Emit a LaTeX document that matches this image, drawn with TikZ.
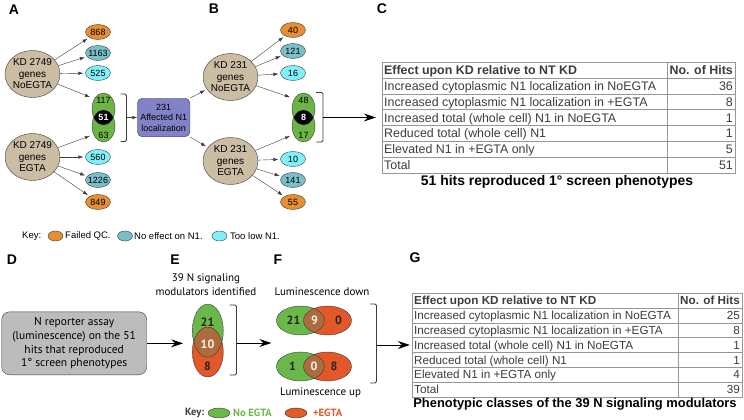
\documentclass[tikz,border=0pt]{standalone}
\usepackage{fontspec}
\setmainfont{Liberation Sans}
\newfontfamily\humfont{PT Sans}
\usetikzlibrary{shapes.geometric,arrows.meta}

\definecolor{tanfill}{RGB}{203,189,164}
\definecolor{qcorange}{RGB}{230,142,48}
\definecolor{noeffteal}{RGB}{122,190,200}
\definecolor{lowcyan}{RGB}{128,240,250}
\definecolor{venngreen}{RGB}{108,180,70}
\definecolor{boxpurple}{RGB}{130,130,200}
\definecolor{egreen}{RGB}{106,184,74}
\definecolor{eorange}{RGB}{226,88,40}
\definecolor{ebrown}{RGB}{172,108,62}
\definecolor{graybox}{RGB}{188,188,188}
\definecolor{gridgray}{RGB}{150,150,150}
\definecolor{inkgray}{RGB}{60,60,60}

\begin{document}
\begin{tikzpicture}[x=1pt,y=-1pt,
    kd/.style={ellipse,draw=inkgray,fill=tanfill,inner xsep=-3pt,inner ysep=0pt,minimum width=55pt,minimum height=47pt,align=center,font=\fontsize{10}{11.5}\selectfont},
    hit/.style={ellipse,draw=inkgray,inner xsep=-2pt,inner ysep=0pt,minimum width=25pt,minimum height=15pt,font=\fontsize{9}{9}\selectfont},
    keydot/.style={ellipse,draw=inkgray,minimum width=15pt,minimum height=10pt,inner sep=0pt},
    arr/.style={-{Latex[length=5pt,width=3.5pt]},draw=inkgray,shorten >=2pt},
    bigarr/.style={-{Stealth[length=12pt,width=8pt,inset=4pt]},line width=0.9pt},
    brace/.style={draw=inkgray,line width=0.8pt,rounded corners=1.5pt},
    panel/.style={font=\bfseries\fontsize{14}{14}\selectfont,inner sep=0pt},
    cellC/.style={anchor=base west,inner sep=0pt,text=inkgray,font=\fontsize{12.4}{12.4}\selectfont},
    cellG/.style={anchor=base west,inner sep=0pt,text=inkgray,font=\fontsize{11.7}{11.7}\selectfont},
    keytext/.style={anchor=west,inner sep=0pt,font=\fontsize{9.5}{10}\selectfont},
    vnum/.style={inner sep=0pt,font=\humfont\bfseries\fontsize{12}{12}\selectfont},
  ]
  \useasboundingbox (0,0) rectangle (744,420);

  % Panel letters
  \node[panel] (labA) at (14,10) {A};
  \node[panel] (labB) at (214,9) {B};
  \node[panel] (labC) at (382,9) {C};
  \node[panel] (labD) at (12,260) {D};
  \node[panel] (labE) at (175,260) {E};
  \node[panel] (labF) at (278,260) {F};
  \node[panel] (labG) at (415,258) {G};

  % Panel A: primary screen
  \node[kd] (kdA1) at (32.5,74) {KD 2749\\genes\\NoEGTA};
  \node[kd] (kdA2) at (32.5,157) {KD 2749\\genes\\EGTA};
  \node[hit,fill=qcorange] (a868) at (98,32) {868};
  \node[hit,fill=noeffteal] (a1163) at (98,53) {1163};
  \node[hit,fill=lowcyan] (a525) at (98,73) {525};
  \node[hit,fill=lowcyan] (a560) at (98,157) {560};
  \node[hit,fill=noeffteal] (a1226) at (98,180) {1226};
  \node[hit,fill=qcorange] (a849) at (98,202) {849};

  % Panel B: retest of the 231
  \node[kd] (kdB1) at (230.5,77) {KD 231\\genes\\NoEGTA};
  \node[kd] (kdB2) at (230.5,161) {KD 231\\genes\\EGTA};
  \node[hit,fill=qcorange] (b40) at (293,30) {40};
  \node[hit,fill=noeffteal] (b121) at (293,51) {121};
  \node[hit,fill=lowcyan] (b16) at (293,73) {16};
  \node[hit,fill=lowcyan] (b10) at (293,159) {10};
  \node[hit,fill=noeffteal] (b141) at (293,180) {141};
  \node[hit,fill=qcorange] (b55) at (293,202) {55};

  % Overlap of the two conditions (A and B)
  \foreach \p/\cx/\nup/\nboth/\ndn in {A/103.5/117/51/63,B/303.5/48/8/17}{
    \node[minimum width=23pt,minimum height=49pt,inner sep=0pt] (venn\p) at (\cx,117.5) {};
    \fill[venngreen] (\cx,109) ellipse [x radius=11.5pt,y radius=16pt];
    \fill[venngreen] (\cx,126) ellipse [x radius=11.5pt,y radius=16pt];
    \begin{scope}
      \clip (\cx,109) ellipse [x radius=11.5pt,y radius=16pt];
      \fill[black] (\cx,126) ellipse [x radius=11.5pt,y radius=16pt];
    \end{scope}
    \draw[inkgray] (\cx,109) ellipse [x radius=11.5pt,y radius=16pt]
      (\cx,126) ellipse [x radius=11.5pt,y radius=16pt];
    \node[inner sep=0pt,font=\fontsize{9}{9}\selectfont] (up\p) at (\cx,100) {\nup};
    \node[inner sep=0pt,text=white,font=\bfseries\fontsize{9}{9}\selectfont] (both\p) at (\cx,117.5) {\nboth};
    \node[inner sep=0pt,font=\fontsize{9}{9}\selectfont] (dn\p) at (\cx,135) {\ndn};
  }

  \node[draw=inkgray,fill=boxpurple,rounded corners=5pt,minimum width=52.5pt,minimum height=38.5pt,
    inner sep=0pt,align=center,font=\fontsize{9}{10.5}\selectfont] (hitbox) at (163.7,117.5) {231\\Affected N1\\localization};

  \draw[brace] (120.5,94) -- (126.5,94) -- (126.5,141.5) -- (120.5,141.5);
  \coordinate (brA) at (126.5,117.5);
  \draw[brace] (316,92.5) -- (323,92.5) -- (323,142) -- (316,142);
  \coordinate (brB) at (323,117.5);

  \foreach \t in {a868,a1163,a525} \draw[arr] (kdA1) -- (\t);
  \foreach \t in {a560,a1226,a849} \draw[arr] (kdA2) -- (\t);
  \draw[arr] (kdA1) -- ([yshift=-5pt]vennA.north west);
  \draw[arr] (kdA2) -- ([yshift=7pt]vennA.south west);
  \draw[arr,shorten >=0pt] (brA) -- (hitbox.west);
  \draw[arr] (hitbox.north east) -- (kdB1);
  \draw[arr] (hitbox.south east) -- (kdB2);
  \foreach \t in {b40,b121,b16} \draw[arr] (kdB1) -- (\t);
  \foreach \t in {b10,b141,b55} \draw[arr] (kdB2) -- (\t);
  \draw[arr] (kdB1) -- ([yshift=-5pt]vennB.north west);
  \draw[arr] (kdB2) -- ([yshift=7pt]vennB.south west);

  % Key for A and B
  \node[keytext] (keyA) at (22,236) {Key:};
  \node[keydot,fill=qcorange] (kqc) at (55.5,236) {};
  \node[keytext] (kqcT) at (65,236) {Failed QC.};
  \node[keydot,fill=noeffteal] (knoeff) at (125,236) {};
  \node[keytext] (knoeffT) at (134,236) {No effect on N1.};
  \node[keydot,fill=lowcyan] (klow) at (219.5,236) {};
  \node[keytext] (klowT) at (230,236) {Too low N1.};

  % Panel C: table
  \node[draw=gridgray,minimum width=353pt,minimum height=111pt,inner sep=0pt] (tabC) at (558.5,117.5) {};
  \foreach \r in {1,...,6}
    \draw[gridgray] (382,{62+15.857*\r}) -- (735,{62+15.857*\r});
  \draw[gridgray] (667,62) -- (667,173);
  \node[cellC,font=\bfseries\fontsize{12.4}{12.4}\selectfont] (headC) at (384,74.5) {Effect upon KD relative to NT KD};
  \node[cellC,anchor=base east,font=\bfseries\fontsize{12.4}{12.4}\selectfont] (hitsC) at (733,74.5) {No. of Hits};
  \foreach \txt/\hits [count=\r] in {{Increased cytoplasmic N1 localization in NoEGTA}/36,
      {Increased cytoplasmic N1 localization in +EGTA}/8,{Increased total (whole cell) N1 in NoEGTA}/1,
      {Reduced total (whole cell) N1}/1,{Elevated N1 in +EGTA only}/5,Total/51}{
    \node[cellC] (rowC\r) at (384,{74.5+15.857*\r}) {\txt};
    \node[cellC,anchor=base east] (numC\r) at (733,{74.5+15.857*\r}) {\hits};
  }
  \node[anchor=base,inner sep=0pt,font=\bfseries\fontsize{13.9}{14}\selectfont] (capC) at (557,185) {51 hits reproduced 1° screen phenotypes};
  \draw[bigarr,shorten >=6pt] (brB) -- (tabC.west);

  % Panel D: reporter assay
  \node[draw=inkgray,fill=graybox,rounded corners=8pt,minimum width=145pt,minimum height=63pt,inner sep=0pt,
    align=center,font=\humfont\fontsize{11.5}{13.8}\selectfont] (assay) at (74.2,343.3)
    {N reporter assay\\(luminescence) on the 51\\hits that reproduced\\1° screen phenotypes};

  % Panel E
  \node[align=center,inner sep=0pt,font=\humfont\fontsize{11}{14}\selectfont] (eTitle) at (206,285) {39 N signaling\\modulators identified};
  \node[minimum width=31pt,minimum height=72.4pt,inner sep=0pt] (vennE) at (207.8,340.5) {};
  \fill[egreen] (207.8,330.7) ellipse [x radius=15.5pt,y radius=26.5pt];
  \fill[eorange] (207.8,352) ellipse [x radius=15.5pt,y radius=25pt];
  \begin{scope}
    \clip (207.8,330.7) ellipse [x radius=15.5pt,y radius=26.5pt];
    \fill[ebrown] (207.8,352) ellipse [x radius=15.5pt,y radius=25pt];
  \end{scope}
  \draw[inkgray,line width=0.4pt] (207.8,330.7) ellipse [x radius=15.5pt,y radius=26.5pt]
    (207.8,352) ellipse [x radius=15.5pt,y radius=25pt];
  \node[vnum,text=black!85] (e21) at (207.5,322.3) {21};
  \node[vnum,text=white!92!ebrown] (e10) at (207.5,344.3) {10};
  \node[vnum,text=black!85] (e8) at (207.5,366.7) {8};
  \draw[bigarr,shorten >=9pt] (assay.east) -- (vennE.west |- assay.east);
  \draw[brace] (229.5,305) -- (236.5,305) -- (236.5,375) -- (229.5,375);
  \coordinate (brE) at (236.5,343);

  % Panel F
  \node[inner sep=0pt,font=\humfont\fontsize{11}{14}\selectfont] (fDown) at (322,292) {Luminescence down};
  \node[inner sep=0pt,font=\humfont\fontsize{11}{14}\selectfont] (fUp) at (320.5,393) {Luminescence up};
  \node[minimum width=75pt,minimum height=77pt,inner sep=0pt] (vennF) at (314,344) {};
  \foreach \cy in {320.5,366.5}{
    \fill[egreen] (300.5,\cy) ellipse [x radius=24pt,y radius=14.5pt];
    \fill[eorange] (327.5,\cy) ellipse [x radius=24pt,y radius=14.5pt];
    \begin{scope}
      \clip (300.5,\cy) ellipse [x radius=24pt,y radius=14.5pt];
      \fill[ebrown] (327.5,\cy) ellipse [x radius=24pt,y radius=14.5pt];
    \end{scope}
    \draw[inkgray,line width=0.4pt] (300.5,\cy) ellipse [x radius=24pt,y radius=14.5pt]
      (327.5,\cy) ellipse [x radius=24pt,y radius=14.5pt];
  }
  \node[vnum,text=black!85] (fd21) at (293.5,320.5) {21};
  \node[vnum,text=white!92!ebrown] (fd9) at (314.5,320.5) {9};
  \node[vnum,text=black!85] (fd0) at (338.5,320.5) {0};
  \node[vnum,text=black!85] (fu1) at (292.5,366.5) {1};
  \node[vnum,text=white!92!ebrown] (fu0) at (314,366.5) {0};
  \node[vnum,text=black!85] (fu8) at (334,366.5) {8};
  \draw[bigarr,shorten >=5pt] (brE) -- (vennF.west |- brE);
  \draw[brace] (370,304) -- (376.5,304) -- (376.5,383) -- (370,383);
  \coordinate (brF) at (376.5,345);

  % Key for E and F
  \node[anchor=west,inner sep=0pt,font=\humfont\bfseries\fontsize{10.5}{11}\selectfont,text=inkgray] (keyF) at (185,413) {Key:};
  \node[keydot,fill=egreen,minimum width=22pt] (kgreen) at (219,413) {};
  \node[anchor=west,inner sep=0pt,font=\humfont\bfseries\fontsize{10.5}{11}\selectfont,text=egreen] (kgreenT) at (233,413) {No EGTA};
  \node[keydot,fill=eorange,minimum width=22pt] (korange) at (296,413) {};
  \node[anchor=west,inner sep=0pt,font=\humfont\bfseries\fontsize{10.5}{11}\selectfont,text=eorange] (korangeT) at (313,413) {+EGTA};

  % Panel G: table
  \node[draw=gridgray,minimum width=330pt,minimum height=104pt,inner sep=0pt] (tabG) at (577,345) {};
  \foreach \r in {1,...,6}
    \draw[gridgray] (412,{293+14.857*\r}) -- (742,{293+14.857*\r});
  \draw[gridgray] (678,293) -- (678,397);
  \node[cellG,font=\bfseries\fontsize{11.7}{11.7}\selectfont] (headG) at (414,304.7) {Effect upon KD relative to NT KD};
  \node[cellG,anchor=base east,font=\bfseries\fontsize{11.7}{11.7}\selectfont] (hitsG) at (740,304.7) {No. of Hits};
  \foreach \txt/\hits [count=\r] in {{Increased cytoplasmic N1 localization in NoEGTA}/25,
      {Increased cytoplasmic N1 localization in +EGTA}/8,{Increased total (whole cell) N1 in NoEGTA}/1,
      {Reduced total (whole cell) N1}/1,{Elevated N1 in +EGTA only}/4,Total/39}{
    \node[cellG] (rowG\r) at (414,{304.7+14.857*\r}) {\txt};
    \node[cellG,anchor=base east] (numG\r) at (740,{304.7+14.857*\r}) {\hits};
  }
  \node[anchor=base,inner sep=0pt,font=\bfseries\fontsize{12.9}{13}\selectfont] (capG) at (575,407.5) {Phenotypic classes of the 39 N signaling modulators};
  \draw[bigarr,shorten >=2pt] (brF) -- (tabG.west);
\end{tikzpicture}
\end{document}
